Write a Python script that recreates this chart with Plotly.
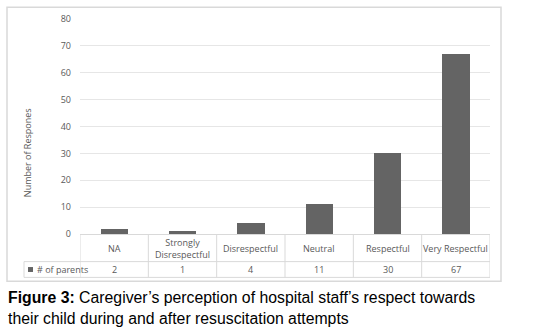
import plotly.graph_objects as go

categories = ["NA", "Strongly<br>Disrespectful", "Disrespectful", "Neutral", "Respectful", "Very Respectful"]
parents = [2, 1, 4, 11, 30, 67]
series_name = "# of parents"
y_ticks = [0, 10, 20, 30, 40, 50, 60, 70, 80]
y_title = "Number of Respones"
caption_bold = "Figure 3:"
caption_line1 = "Caregiver’s perception of hospital staff’s respect towards"
caption_line2 = "their child during and after resuscitation attempts"

W, H = 547, 335
L, R, T, B = 80, 57, 16, 101
ph = H - T - B
pw = W - L - R

def py(p):  # pixel y -> paper y
    return (H - B - p) / ph

def px(p):  # pixel x -> paper x
    return (p - L) / pw

n = len(categories)
xs = list(range(n))
bar_color = "#646464"
line_color = "#d9d9d9"
txt_color = "#595959"
font_fam = "Open Sans, Liberation Sans, sans-serif"

fig = go.Figure()
fig.add_trace(go.Bar(x=xs, y=parents, width=0.4, marker=dict(color=bar_color, line=dict(width=0)),
                     name=series_name, showlegend=False, hoverinfo="skip"))

shapes = []
annotations = []
# outer border
shapes.append(dict(type="rect", xref="paper", yref="paper", x0=px(7), x1=px(501), y0=py(282), y1=py(4),
                   line=dict(color=line_color, width=1.5), layer="below"))
# table lines
shapes.append(dict(type="line", xref="paper", yref="paper", x0=px(24), x1=1, y0=py(262), y1=py(262),
                   line=dict(color=line_color, width=1)))
shapes.append(dict(type="line", xref="paper", yref="paper", x0=px(24), x1=1, y0=py(278), y1=py(278),
                   line=dict(color=line_color, width=1)))
shapes.append(dict(type="line", xref="paper", yref="paper", x0=px(24), x1=px(24), y0=py(278), y1=py(262),
                   line=dict(color=line_color, width=1)))
for i in range(n + 1):
    shapes.append(dict(type="line", xref="x", yref="paper", x0=i - 0.5, x1=i - 0.5, y0=py(278), y1=0,
                       line=dict(color=line_color, width=1)))
# legend key
shapes.append(dict(type="rect", xref="paper", yref="paper", x0=px(28), x1=px(33), y0=py(272.5), y1=py(267.5),
                   fillcolor=bar_color, line=dict(width=0)))
annotations.append(dict(xref="paper", yref="paper", x=px(35), y=py(270), text=series_name, showarrow=False,
                        xanchor="left", yanchor="middle", font=dict(size=9, color=txt_color, family=font_fam)))
for i, (c, v) in enumerate(zip(categories, parents)):
    annotations.append(dict(xref="x", yref="paper", x=i, y=py(248.5), text=c, showarrow=False,
                            xanchor="center", yanchor="middle",
                            font=dict(size=9, color=txt_color, family=font_fam)))
    annotations.append(dict(xref="x", yref="paper", x=i, y=py(270), text=str(v), showarrow=False,
                            xanchor="center", yanchor="middle",
                            font=dict(size=9, color=txt_color, family=font_fam)))
# y title
annotations.append(dict(xref="paper", yref="paper", x=px(27), y=py(152), text=y_title, textangle=-90,
                        showarrow=False, xanchor="center", yanchor="middle",
                        font=dict(size=9, color=txt_color, family=font_fam)))
# caption
annotations.append(dict(xref="paper", yref="paper", x=px(6), y=py(288), align="left",
                        text=f"<b>{caption_bold}</b> {caption_line1}<br>{caption_line2}",
                        showarrow=False, xanchor="left", yanchor="top",
                        font=dict(size=15.8, color="#000000", family="Liberation Sans, Arial, sans-serif")))

fig.update_layout(
    width=W, height=H, margin=dict(l=L, r=R, t=T, b=B),
    paper_bgcolor="white", plot_bgcolor="white",
    shapes=shapes, annotations=annotations, bargap=0,
    xaxis=dict(range=[-0.5, n - 0.5], showticklabels=False, showgrid=False, zeroline=False,
               showline=False, ticks="", fixedrange=True),
    yaxis=dict(range=[0, 80], tickvals=y_ticks, showgrid=True, gridcolor="#e6e6e6", gridwidth=1,
               zeroline=True, zerolinecolor=line_color, zerolinewidth=1, showline=False, ticks="",
               ticklabelstandoff=8, tickfont=dict(size=9, color=txt_color, family=font_fam)),
)

fig.write_html("out.html", config={"displayModeBar": False},
               post_script="document.body.style.margin='0';document.body.style.overflow='hidden';")
